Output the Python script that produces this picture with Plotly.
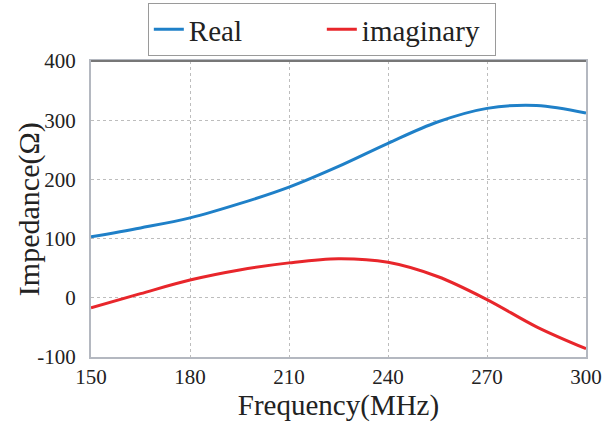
import plotly.graph_objects as go

freq_mhz = [150, 165, 180, 195, 210, 225, 240, 255, 270, 285, 300]
real_ohm = [103, 118, 135, 159, 187, 222, 261, 297, 320, 325, 312]
imag_ohm = [-17, 7, 30, 47, 59, 66, 60, 36, -3, -49, -86]

x_ticks = [150, 180, 210, 240, 270, 300]
y_ticks = [-100, 0, 100, 200, 300, 400]

FONT = "Liberation Serif, Times New Roman, serif"
TXT = "#222222"

fig = go.Figure()
fig.add_trace(go.Scatter(x=freq_mhz, y=real_ohm, name="Real", mode="lines",
                         line=dict(color="#1f80c8", width=3, shape="spline", smoothing=1.0)))
fig.add_trace(go.Scatter(x=freq_mhz, y=imag_ohm, name="imaginary", mode="lines",
                         line=dict(color="#e8262b", width=3, shape="spline", smoothing=1.0)))

fig.update_layout(
    width=613, height=429,
    margin=dict(l=91, r=27, t=61, b=72, autoexpand=False),
    paper_bgcolor="white", plot_bgcolor="white",
    font=dict(family=FONT, color=TXT),
    showlegend=True,
    legend=dict(orientation="h", xref="container", x=0.525, xanchor="center",
                yref="container", y=0.993, yanchor="top",
                bgcolor="white", bordercolor="#9a9a9a", borderwidth=1,
                font=dict(family=FONT, size=29, color=TXT),
                entrywidth=128, entrywidthmode="pixels", tracegroupgap=0),
)
fig.update_xaxes(range=[150, 300], tickvals=x_ticks, ticktext=[str(v) for v in x_ticks],
                 showgrid=True, gridcolor="#bdbdbd", griddash="dot", gridwidth=1,
                 showline=True, linecolor="#b4b8c0", linewidth=2, mirror=True,
                 ticks="", ticklabelstandoff=0, zeroline=False,
                 tickfont=dict(family=FONT, size=21, color=TXT),
                 title=dict(text="Frequency(MHz)", font=dict(family=FONT, size=29, color=TXT),
                            standoff=1))
fig.update_yaxes(range=[-100, 400], tickvals=y_ticks, ticktext=[str(v) for v in y_ticks],
                 showgrid=True, gridcolor="#bdbdbd", griddash="dot", gridwidth=1,
                 showline=True, linecolor="#b4b8c0", linewidth=2, mirror=True,
                 ticks="", ticklabelstandoff=9, zeroline=False,
                 tickfont=dict(family=FONT, size=21, color=TXT))
fig.add_annotation(text="Impedance(Ω)", xref="paper", yref="paper", x=-0.125, y=0.5,
                   xanchor="center", yanchor="middle", textangle=-90, showarrow=False,
                   font=dict(family=FONT, size=30, color=TXT))
fig.add_shape(type="line", xref="paper", yref="paper", x0=0, x1=1, y0=1, y1=1,
              line=dict(color="#777777", width=2))

fig.write_html("out.html")
